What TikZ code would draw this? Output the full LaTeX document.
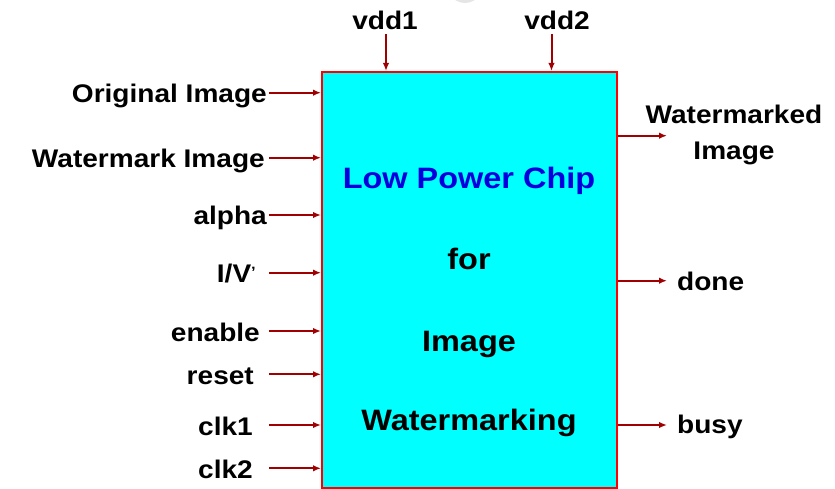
\documentclass[tikz,border=0pt]{standalone}
\usepackage{fontspec}
\setmainfont{Liberation Sans}[FakeStretch=1.1]
\usetikzlibrary{arrows.meta}
\definecolor{arrowred}{RGB}{160,0,0}
\definecolor{chipblue}{RGB}{0,0,220}
\definecolor{chipcyan}{RGB}{0,255,255}
\definecolor{chipred}{RGB}{255,0,0}
\newcommand{\smallprime}{{\fontsize{15}{15}\selectfont\raisebox{5pt}{’}}}
\begin{document}
\begin{tikzpicture}[x=1pt,y=-1pt,
  lbl/.style={font=\fontsize{25.5}{30}\selectfont\bfseries, inner sep=0pt, text=black},
  ctext/.style={font=\fontsize{29.5}{34}\selectfont\bfseries, inner sep=0pt, anchor=base},
  sig/.style={draw=arrowred, line width=2pt, -{Latex[length=8pt,width=6.5pt]}},
  chipbox/.style={draw=chipred, fill=chipcyan, line width=2pt, inner sep=0pt, anchor=north west}]
\useasboundingbox (0,0) rectangle (835,489);
\fill[gray!20] (465,-6) ellipse (13 and 9);
\node[chipbox, minimum width=295pt, minimum height=416pt] (chip) at (321,71) {};
% centre text
\node[ctext, text=chipblue] (t1) at (469,188.3) {Low Power Chip};
\node[ctext] (t2) at (469,269.3) {for};
\node[ctext] (t3) at (469,351.7) {Image};
\node[ctext] (t4) at (469,430) {Watermarking};
% inputs
\foreach \y/\t/\xe [count=\i] in {92.7/{Original Image}/267, 157.7/{Watermark Image}/265, 215/alpha/267, 272.7/{I/V\smallprime}/256, 331/enable/260, 374.3/reset/254, 425/clk1/253, 468.3/clk2/253}{
  \node[lbl, anchor=base east] (in\i) at (\xe,\y+10) {\t};
  \coordinate (s\i) at (269,\y);
  \draw[sig] (s\i) -- (s\i -| chip.west);
}
% supplies
\node[lbl, anchor=base] (vdd1) at (385,30) {vdd1};
\node[lbl, anchor=base] (vdd2) at (557,30) {vdd2};
\coordinate (p1) at (386,34);
\coordinate (p2) at (551.5,34);
\draw[sig] (p1) -- (p1 |- chip.north);
\draw[sig] (p2) -- (p2 |- chip.north);
% outputs
\coordinate (e1) at (667,135.7);
\coordinate (e2) at (667,280.7);
\coordinate (e3) at (667,425);
\draw[sig] (e1 -| chip.east) -- (e1);
\draw[sig] (e2 -| chip.east) -- (e2);
\draw[sig] (e3 -| chip.east) -- (e3);
\node[lbl, anchor=base, align=center] (wm) at (734,159.3) {Watermarked\\[6pt]Image};
\node[lbl, anchor=base west] (done) at (677,290) {done};
\node[lbl, anchor=base west] (busy) at (677,433) {busy};
\end{tikzpicture}
\end{document}
